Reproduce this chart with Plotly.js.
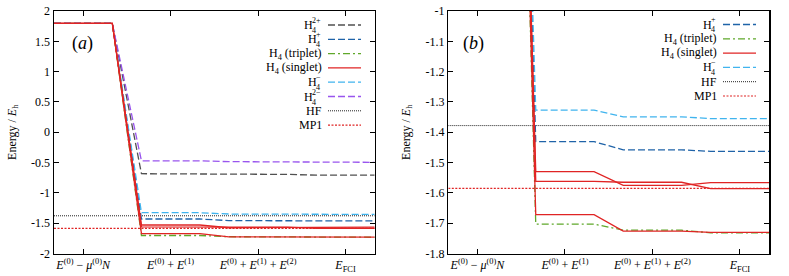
<!DOCTYPE html>
<html>
<head>
<meta charset="utf-8">
<script src="https://cdn.plot.ly/plotly-3.0.1.min.js"></script>
<style>html,body{margin:0;padding:0;background:#fff;}#chart{width:789px;height:276px;}</style>
</head>
<body>
<div id="chart"></div>
<script>
// ---- data ----
const stages = [0, 1, 2, 3];
const stageLabels = [
  '<i>E</i><sup>(0)</sup> − <i>μ</i><sup>(0)</sup><i>N</i>',
  '<i>E</i><sup>(0)</sup> + <i>E</i><sup>(1)</sup>',
  '<i>E</i><sup>(0)</sup> + <i>E</i><sup>(1)</sup> + <i>E</i><sup>(2)</sup>',
  '<i>E</i><sub>FCI</sub>'
];
const h4_2plus    = [1.795, -0.684, -0.695, -0.708];
const h4_plus     = [1.795, -1.431, -1.458, -1.463];
const h4_triplet  = [1.795, -1.703, -1.723, -1.732];
const h4_singlet1 = [1.795, -1.530, -1.575, -1.566];
const h4_singlet2 = [1.795, -1.562, -1.565, -1.586];
const h4_singlet3 = [1.795, -1.672, -1.726, -1.730];
const h4_minus    = [1.795, -1.327, -1.349, -1.355];
const h4_2minus   = [1.795, -0.472, -0.485, -0.496];
const hfEnergy  = -1.378;
const mp1Energy = -1.585;

const yTicksA = [2, 1.5, 1, 0.5, 0, -0.5, -1, -1.5, -2];
const yTextA  = ['2', '1.5', '1', '0.5', '0', '-0.5', '-1', '-1.5', '-2'];
const yTicksB = [-1, -1.1, -1.2, -1.3, -1.4, -1.5, -1.6, -1.7, -1.8];
const yTextB  = ['-1', '-1.1', '-1.2', '-1.3', '-1.4', '-1.5', '-1.6', '-1.7', '-1.8'];

// legend entries: [main text, subscript (stacked), superscript (stacked)]
const legendA = [['H', '4', '2+'], ['H', '4', '+'], ['H<sub>4</sub> (triplet)', '', ''], ['H<sub>4</sub> (singlet)', '', ''],
                 ['H', '4', '−'], ['H', '4', '2−'], ['HF', '', ''], ['MP1', '', '']];
const legendB = [['H', '4', '+'], ['H<sub>4</sub> (triplet)', '', ''], ['H<sub>4</sub> (singlet)', '', ''],
                 ['H', '4', '−'], ['HF', '', ''], ['MP1', '', '']];

// ---- styles ----
const FONT = 'Liberation Serif';
const st = {
  p2:  {color: '#505050', width: 1.3, dash: '7px,3px'},
  p1:  {color: '#1f63a8', width: 1.3, dash: '7px,3px'},
  tr:  {color: '#5fa82a', width: 1.3, dash: '7px,3px,2px,3px'},
  si:  {color: '#e02424', width: 1.3, dash: 'solid'},
  m1:  {color: '#40b4ee', width: 1.3, dash: '7px,3px'},
  m2:  {color: '#9955ee', width: 1.3, dash: '7px,3px'},
  hf:  {color: '#222222', width: 1.0, dash: '1px,1px'},
  mp1: {color: '#e02424', width: 1.1, dash: '2px,1.5px'}
};
const half = 1/3;
const xr = [-1/3, 10/3];

function stepXY(vals) {
  const xs = [], ys = [];
  vals.forEach((v, i) => { xs.push(stages[i] - half, stages[i] + half); ys.push(v, v); });
  return {xs, ys};
}
function stepTrace(vals, style, ax) {
  const s = stepXY(vals);
  return {x: s.xs, y: s.ys, type: 'scatter', mode: 'lines', line: style,
          xaxis: 'x' + ax, yaxis: 'y' + ax, showlegend: false, hoverinfo: 'skip'};
}
function flatTrace(v, style, ax) {
  return {x: xr, y: [v, v], type: 'scatter', mode: 'lines', line: style,
          xaxis: 'x' + ax, yaxis: 'y' + ax, showlegend: false, hoverinfo: 'skip'};
}

const traces = [
  flatTrace(hfEnergy, st.hf, ''), flatTrace(mp1Energy, st.mp1, ''),
  stepTrace(h4_2plus, st.p2, ''), stepTrace(h4_plus, st.p1, ''),
  stepTrace(h4_triplet, st.tr, ''),
  stepTrace(h4_minus, st.m1, ''), stepTrace(h4_2minus, st.m2, ''),
  stepTrace(h4_singlet1, st.si, ''), stepTrace(h4_singlet2, st.si, ''), stepTrace(h4_singlet3, st.si, ''),

  flatTrace(hfEnergy, st.hf, '2'), flatTrace(mp1Energy, st.mp1, '2'),
  stepTrace(h4_plus, st.p1, '2'), stepTrace(h4_triplet, st.tr, '2'),
  stepTrace(h4_minus, st.m1, '2'),
  stepTrace(h4_singlet1, st.si, '2'), stepTrace(h4_singlet2, st.si, '2'), stepTrace(h4_singlet3, st.si, '2')
];

const W = 789, H = 276;
const axBase = {
  showline: true, linecolor: '#000', linewidth: 1.5, mirror: 'allticks',
  ticks: 'inside', ticklen: 5, tickwidth: 1, tickcolor: '#000',
  showgrid: false, zeroline: false, tickmode: 'array',
  tickfont: {family: FONT, size: 12, color: '#000'}
};
const yTitle = {text: 'Energy / <i>E</i><sub>h</sub>', font: {family: FONT, size: 12, color: '#000'}, standoff: 12};

const layout = {
  width: W, height: H, margin: {l: 0, r: 0, t: 0, b: 0},
  paper_bgcolor: '#fff', plot_bgcolor: '#fff', showlegend: false,
  font: {family: FONT, color: '#000'},
  xaxis:  Object.assign({}, axBase, {domain: [54/W, 374.7/W], range: xr, tickvals: stages, ticktext: stageLabels, anchor: 'y'}),
  yaxis:  Object.assign({}, axBase, {domain: [1 - 253.5/H, 1 - 11/H], range: [-2, 2], tickvals: yTicksA, ticktext: yTextA, anchor: 'x', title: yTitle}),
  xaxis2: Object.assign({}, axBase, {domain: [448.3/W, 769/W], range: xr, tickvals: stages, ticktext: stageLabels, anchor: 'y2'}),
  yaxis2: Object.assign({}, axBase, {domain: [1 - 253.5/H, 1 - 11/H], range: [-1.8, -1], tickvals: yTicksB, ticktext: yTextB, anchor: 'x2', title: yTitle}),
  shapes: [], annotations: []
};

function ann(px, py, text, anchor, size, align) {
  layout.annotations.push({xref: 'paper', yref: 'paper', x: px / W, y: 1 - py / H,
    xanchor: anchor, yanchor: 'middle', showarrow: false, text: text, align: align || 'center',
    borderpad: 0, borderwidth: 0,
    font: {family: FONT, size: size, color: '#000'}});
}
function addLegend(entries, styles, textRight, lx0, lx1, y0, dy) {
  entries.forEach((e, i) => {
    const py = y0 + dy * i;
    const [main, sub, sup] = e;
    if (sup) {
      const blockW = sup.length > 1 ? 9.5 : 5.5;
      const xb = textRight - blockW;
      ann(xb, py, main, 'right', 12);
      ann(xb - 0.3, py + 0.5, sup + '<br>' + sub, 'left', 8, 'left');
    } else {
      ann(textRight, py, main, 'right', 12);
    }
    const s = styles[i];
    layout.shapes.push({type: 'line', xref: 'paper', yref: 'paper',
      x0: lx0 / W, x1: lx1 / W, y0: 1 - py / H, y1: 1 - py / H,
      line: {color: s.color, width: s.width, dash: s.dash}});
  });
}
addLegend(legendA, [st.p2, st.p1, st.tr, st.si, st.m1, st.m2, st.hf, st.mp1], 322, 328, 361, 25, 14.3);
addLegend(legendB, [st.p1, st.tr, st.si, st.m1, st.hf, st.mp1], 717, 723, 756, 24.5, 14.3);

ann(82, 43, '(<i>a</i>)', 'center', 18);
ann(473, 43, '(<i>b</i>)', 'center', 18);

Plotly.newPlot('chart', traces, layout, {displayModeBar: false, staticPlot: true});
</script>
</body>
</html>
